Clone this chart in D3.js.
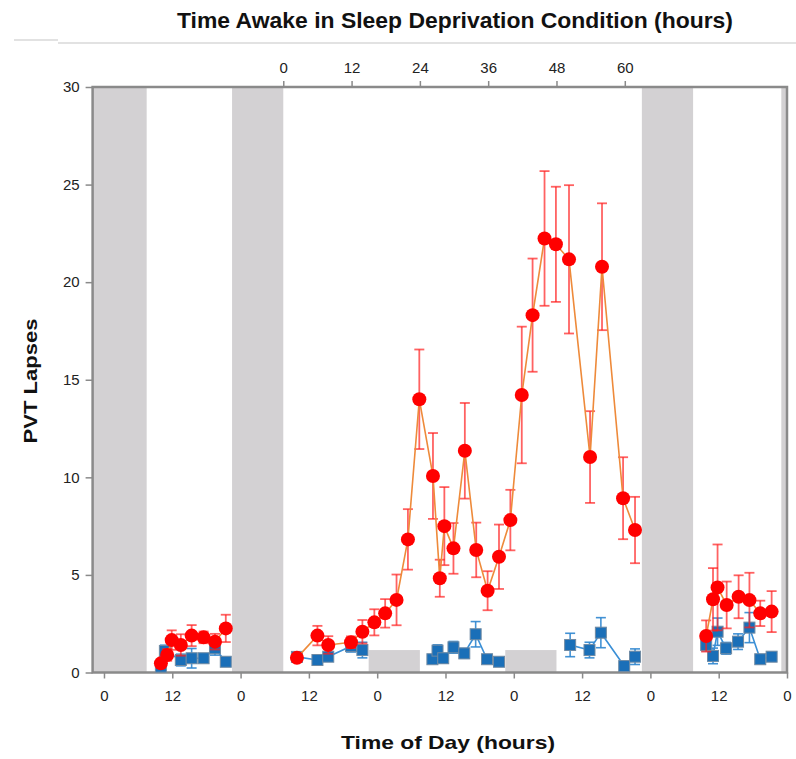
<!DOCTYPE html>
<html>
<head>
<meta charset="utf-8">
<script src="https://cdn.jsdelivr.net/npm/d3@7"></script>
<style>
  html, body { margin: 0; padding: 0; background: #ffffff; }
  svg { display: block; font-family: "Liberation Sans", Arial, sans-serif; }
</style>
</head>
<body>
<svg id="chart" width="796" height="759"></svg>
<script>
// Hours from midnight of day 1 (time of day axis), PVT lapses and SEM.
// Sleep-deprivation group
const sdHours = [10.0, 11.1, 11.9, 13.5, 15.4, 17.5, 19.5, 21.4,
  33.9, 37.5, 39.4, 43.4, 45.4, 47.5, 49.4, 51.4, 53.4, 55.4, 57.8, 59.0, 59.8,
  61.4, 63.4, 65.4, 67.4, 69.4, 71.4, 73.4, 75.3, 77.4, 79.4, 81.7, 85.4, 87.5, 91.2, 93.3,
  105.8, 107.0, 107.8, 109.4, 111.5, 113.4, 115.3, 117.3];
const sdLapses = [0.47, 0.90, 1.66, 1.41, 1.89, 1.80, 1.58, 2.26,
  0.75, 1.89, 1.41, 1.55, 2.09, 2.57, 3.03, 3.72, 6.82, 14.0, 10.07, 4.83, 7.5,
  6.36, 11.36, 6.28, 4.19, 5.93, 7.81, 14.22, 18.31, 22.24, 21.94, 21.17, 11.04, 20.79, 8.93, 7.3,
  1.87, 3.75, 4.36, 3.46, 3.88, 3.71, 3.03, 3.12];
const sdError = [0.15, 0.3, 0.5, 0.55, 0.54, 0.3, 0.4, 0.7,
  0.2, 0.5, 0.45, 0.3, 0.6, 0.67, 0.73, 1.3, 1.55, 2.55, 2.2, 0.95, 2.0,
  1.3, 2.45, 1.4, 1.0, 1.65, 1.55, 3.5, 2.9, 3.45, 2.95, 3.8, 2.35, 3.25, 2.1, 1.7,
  0.8, 1.6, 2.2, 1.2, 1.1, 1.4, 0.65, 1.05];

// Control group
const ctHours = [10.0, 10.7, 13.5, 15.4, 17.5, 19.5, 21.4,
  33.9, 37.5, 39.4, 43.4, 45.4,
  57.7, 58.6, 59.6, 61.4, 63.3, 65.3, 67.3, 69.4,
  81.9, 85.3, 87.3, 91.4, 93.3,
  105.8, 107.0, 107.8, 109.3, 111.4, 113.4, 115.3, 117.3];
const ctLapses = [0.3, 1.1, 0.64, 0.73, 0.73, 1.24, 0.55,
  0.8, 0.64, 0.81, 1.35, 1.15,
  0.68, 1.12, 0.73, 1.29, 0.98, 1.96, 0.68, 0.55,
  1.41, 1.15, 2.04, 0.33, 0.81,
  1.41, 0.85, 2.09, 1.24, 1.58, 2.30, 0.68, 0.81];
const ctError = [0.15, 0.3, 0.3, 0.5, 0.2, 0.35, 0.2,
  0.2, 0.2, 0.2, 0.3, 0.4,
  0.2, 0.3, 0.25, 0.3, 0.25, 0.65, 0.2, 0.15,
  0.6, 0.4, 0.77, 0.1, 0.4,
  0.3, 0.4, 0.7, 0.3, 0.4, 0.77, 0.15, 0.15];

// Scheduled sleep periods (hours) and the control group's in-lab sleep during deprivation
const sleepBands = [[-2, 7.5], [22.5, 31.5], [94.5, 103.5], [119, 120]];
const controlSleep = [[46.5, 55.5], [70.5, 79.5]];
const controlSleepLevel = 1.15;

// Axis ticks
const dayTicks = [0, 12, 24, 36, 48, 60, 72, 84, 96, 108, 120];
const awakeTicks = [0, 12, 24, 36, 48, 60];
const awakeStart = 31.5;
const lapseTicks = [0, 5, 10, 15, 20, 25, 30];

const svg = d3.select("#chart");

const x = d3.scaleLinear().domain([-2, 120]).range([92.6, 787]);
const y = d3.scaleLinear().domain([0, 30]).range([672.5, 87]);
const xAwake = d3.scaleLinear().domain([0, 60]).range([x(awakeStart), x(awakeStart + 60)]);

// faint rule under the title
svg.append("line").attr("x1", 14).attr("x2", 58).attr("y1", 40).attr("y2", 40)
  .attr("stroke", "#d8d8d8").attr("stroke-width", 1.5);
svg.append("line").attr("x1", 58).attr("x2", 796).attr("y1", 43).attr("y2", 43)
  .attr("stroke", "#d8d8d8").attr("stroke-width", 1.5);

// sleep periods
svg.append("g").selectAll("rect").data(sleepBands).join("rect")
  .attr("x", d => x(d[0])).attr("width", d => x(d[1]) - x(d[0]))
  .attr("y", y(30)).attr("height", y(0) - y(30))
  .attr("fill", "#d3d1d3");

svg.append("g").selectAll("rect").data(controlSleep).join("rect")
  .attr("x", d => x(d[0])).attr("width", d => x(d[1]) - x(d[0]))
  .attr("y", y(controlSleepLevel)).attr("height", y(0) - y(controlSleepLevel))
  .attr("fill", "#d3d1d3");

// frame
svg.append("rect").attr("x", x(-2)).attr("y", y(30))
  .attr("width", x(120) - x(-2)).attr("height", y(0) - y(30))
  .attr("fill", "none").attr("stroke", "#8a8a8a").attr("stroke-width", 2.5);

// left axis
const yAxis = d3.axisLeft(y).tickValues(lapseTicks).tickSize(7).tickPadding(6);
const gy = svg.append("g").attr("transform", `translate(${x(-2)},0)`).call(yAxis);
gy.select(".domain").remove();
gy.selectAll(".tick line").attr("stroke", "#8a8a8a").attr("stroke-width", 1.5);
gy.selectAll(".tick text").attr("font-size", 15).attr("fill", "#222")
  .attr("font-family", "Liberation Sans, Arial, sans-serif");

// bottom axis (time of day)
const xAxis = d3.axisBottom(x).tickValues(dayTicks).tickSize(6).tickPadding(12)
  .tickFormat(d => d % 24);
const gx = svg.append("g").attr("transform", `translate(0,${y(0)})`).call(xAxis);
gx.select(".domain").remove();
gx.selectAll(".tick line").attr("stroke", "#8a8a8a").attr("stroke-width", 1.5);
gx.selectAll(".tick text").attr("font-size", 15).attr("fill", "#222")
  .attr("font-family", "Liberation Sans, Arial, sans-serif");

// top axis (time awake)
const topAxis = d3.axisTop(xAwake).tickValues(awakeTicks).tickSize(6).tickPadding(8);
const gt = svg.append("g").attr("transform", `translate(0,${y(30)})`).call(topAxis);
gt.select(".domain").remove();
gt.selectAll(".tick line").attr("stroke", "#8a8a8a").attr("stroke-width", 1.5);
gt.selectAll(".tick text").attr("font-size", 15).attr("fill", "#222")
  .attr("font-family", "Liberation Sans Narrow, Liberation Sans, Arial, sans-serif");

// titles
svg.append("text").attr("x", 455).attr("y", 28).attr("text-anchor", "middle")
  .attr("font-size", 22).attr("font-weight", "bold").attr("fill", "#111")
  .attr("textLength", 556).attr("lengthAdjust", "spacingAndGlyphs")
  .text("Time Awake in Sleep Deprivation Condition (hours)");

svg.append("text").attr("x", 448).attr("y", 749).attr("text-anchor", "middle")
  .attr("font-size", 19).attr("font-weight", "bold").attr("fill", "#111")
  .attr("textLength", 214).attr("lengthAdjust", "spacingAndGlyphs")
  .text("Time of Day (hours)");

svg.append("text").attr("transform", "translate(37,381) rotate(-90)")
  .attr("text-anchor", "middle")
  .attr("font-size", 19).attr("font-weight", "bold").attr("fill", "#111")
  .attr("textLength", 125).attr("lengthAdjust", "spacingAndGlyphs")
  .text("PVT Lapses");

// split a series into runs separated by sleep gaps
function runs(hours, vals, errs) {
  const out = [];
  let cur = [];
  hours.forEach((h, i) => {
    if (cur.length && h - cur[cur.length - 1].h > 8) { out.push(cur); cur = []; }
    cur.push({ h: h, v: vals[i], e: errs[i] });
  });
  if (cur.length) out.push(cur);
  return out;
}

const line = d3.line().x(d => x(d.h)).y(d => y(d.v));

function drawSeries(runsData, opts) {
  const g = svg.append("g");
  const pts = runsData.flat();
  // error bars
  const eb = g.append("g").attr("stroke", opts.errColor).attr("stroke-width", opts.errWidth)
    .attr("stroke-opacity", opts.errOpacity);
  eb.selectAll("line.v").data(pts).join("line").attr("class", "v")
    .attr("x1", d => x(d.h)).attr("x2", d => x(d.h))
    .attr("y1", d => y(d.v + d.e)).attr("y2", d => y(Math.max(0, d.v - d.e)));
  eb.selectAll("line.t").data(pts).join("line").attr("class", "t")
    .attr("x1", d => x(d.h) - 5).attr("x2", d => x(d.h) + 5)
    .attr("y1", d => y(d.v + d.e)).attr("y2", d => y(d.v + d.e));
  eb.selectAll("line.b").data(pts).join("line").attr("class", "b")
    .attr("x1", d => x(d.h) - 5).attr("x2", d => x(d.h) + 5)
    .attr("y1", d => y(Math.max(0, d.v - d.e))).attr("y2", d => y(Math.max(0, d.v - d.e)));
  // connecting lines
  g.selectAll("path.run").data(runsData).join("path").attr("class", "run")
    .attr("d", line).attr("fill", "none")
    .attr("stroke", opts.lineColor).attr("stroke-width", 1.6);
  // markers
  if (opts.shape === "circle") {
    g.selectAll("circle").data(pts).join("circle")
      .attr("cx", d => x(d.h)).attr("cy", d => y(d.v)).attr("r", 7)
      .attr("fill", opts.fill);
  } else {
    g.selectAll("rect.m").data(pts).join("rect").attr("class", "m")
      .attr("x", d => x(d.h) - 5.5).attr("y", d => y(d.v) - 5.5)
      .attr("width", 11).attr("height", 11)
      .attr("fill", opts.fill).attr("stroke", "#6f8aa3").attr("stroke-width", 1);
  }
}

drawSeries(runs(ctHours, ctLapses, ctError), {
  errColor: "#2f86cf", errWidth: 1.6, errOpacity: 0.9,
  lineColor: "#3a8fd6", shape: "square", fill: "#1a6fb8"
});
drawSeries(runs(sdHours, sdLapses, sdError), {
  errColor: "#ff2020", errWidth: 1.8, errOpacity: 0.7,
  lineColor: "#ee8a3a", shape: "circle", fill: "#ff0000"
});
</script>
</body>
</html>
